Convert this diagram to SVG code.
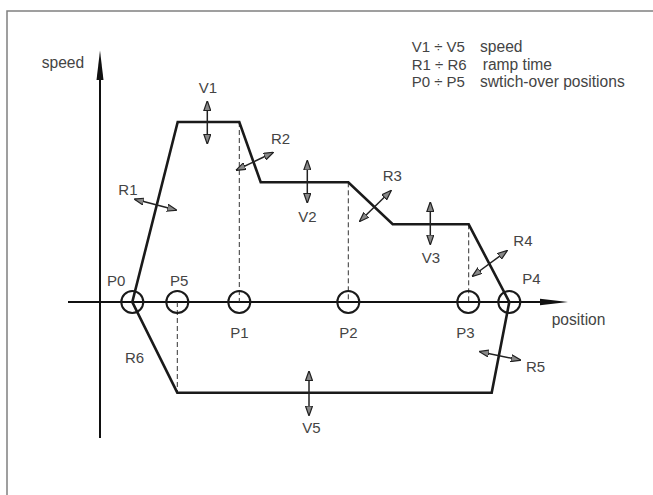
<svg xmlns="http://www.w3.org/2000/svg" width="653" height="495" viewBox="0 0 653 495">
<style>
text{font-family:"Liberation Sans",Arial,sans-serif;font-size:15px;fill:#444}
.w{font-size:15.6px}
.m{text-anchor:middle}
.ax{stroke:#111;stroke-width:2;fill:none}
.pr{stroke:#1a1a1a;stroke-width:2.6;fill:none;stroke-linejoin:miter}
.ci{stroke:#1a1a1a;stroke-width:2;fill:none}
.da{stroke:#333;stroke-width:1;stroke-dasharray:5 3;fill:none}
.dbl{stroke:#222;stroke-width:1.5;fill:none;marker-start:url(#h);marker-end:url(#h)}
.fr{stroke:#808080;stroke-width:1.5;fill:none}
</style>
<defs>
<marker id="h" viewBox="0 0 10 8" refX="9" refY="4" markerWidth="10" markerHeight="8" markerUnits="userSpaceOnUse" orient="auto-start-reverse">
<path d="M0,0.5 L10,4 L0,7.5 Z" fill="#888" stroke="#222" stroke-width="1.2"/>
</marker>
</defs>
<rect width="653" height="495" fill="#fff"/>
<g id="frame"><path class="fr" d="M7,495 V11 H653"/></g>
<g id="axes">
<path class="ax" d="M100,438 V76"/>
<path d="M100,50.5 L103.5,80 L96.5,80 Z" fill="#111"/>
<path class="ax" d="M68,302 H544"/>
<path d="M568,302 L540,298.8 L540,305.2 Z" fill="#111"/>
<text class="w" x="41.7" y="68.3">speed</text>
<text class="w" x="551.7" y="325">position</text>
</g>
<g id="connectors">
<path class="da" d="M239.3,122 V302 M348.3,182.3 V302 M468.7,224.3 V302 M177.3,302 V392.7"/>
<path class="pr" d="M132.3,302 L177.7,122 H239.3 L260.7,182.3 H348.3 L392.7,224.3 H468.7 L509.3,302 L491.7,392.7 H177.3 Z"/>
</g>
<g id="P0"><circle class="ci" cx="132.3" cy="302" r="11"/><text x="107" y="286">P0</text></g>
<g id="P5"><circle class="ci" cx="177.3" cy="302" r="11"/><text x="170" y="286">P5</text></g>
<g id="P1"><circle class="ci" cx="239.3" cy="302" r="11"/><text class="m" x="239.5" y="338.3">P1</text></g>
<g id="P2"><circle class="ci" cx="348.3" cy="302" r="11"/><text class="m" x="348.5" y="338.3">P2</text></g>
<g id="P3"><circle class="ci" cx="468.3" cy="302" r="11"/><text class="m" x="465.5" y="338.3">P3</text></g>
<g id="P4"><circle class="ci" cx="509.3" cy="302" r="11"/><text x="522.3" y="284">P4</text></g>
<g id="V1"><path class="dbl" d="M207.3,101.7 V143.3"/><text class="m" x="208" y="93.3">V1</text></g>
<g id="V2"><path class="dbl" d="M307.3,161 V202.3"/><text class="m" x="307.5" y="221.7">V2</text></g>
<g id="V3"><path class="dbl" d="M430.3,202.7 V244"/><text class="m" x="431" y="262.7">V3</text></g>
<g id="V5"><path class="dbl" d="M309,371.7 V415"/><text class="m" x="311.5" y="432.7">V5</text></g>
<g id="R1"><path class="dbl" d="M135,199.3 L176,210"/><text x="118.3" y="195">R1</text></g>
<g id="R2"><path class="dbl" d="M236.7,170 L272.7,152.7"/><text x="271" y="144">R2</text></g>
<g id="R3"><path class="dbl" d="M360,221 L390.7,191"/><text x="382.7" y="180.7">R3</text></g>
<g id="R4"><path class="dbl" d="M472.7,276 L506.7,251"/><text x="513.3" y="246">R4</text></g>
<g id="R5"><path class="dbl" d="M480,351.7 L520,360"/><text x="526" y="371.7">R5</text></g>
<g id="R6"><text x="125" y="362.7">R6</text></g>
<g id="legend">
<text x="411.7" y="51.7">V1 ÷ V5</text><text class="w" x="480" y="51.7">speed</text>
<text x="411.7" y="70">R1 ÷ R6</text><text class="w" x="482.7" y="70">ramp time</text>
<text x="411.7" y="86.7">P0 ÷ P5</text><text class="w" x="480" y="86.7">swtich-over positions</text>
</g>
</svg>
